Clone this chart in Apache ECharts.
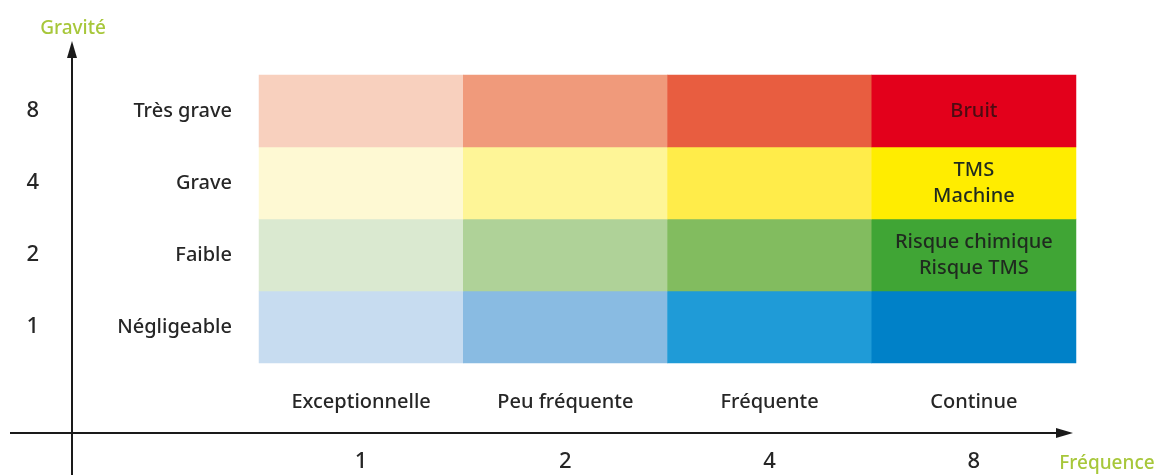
<!DOCTYPE html>
<html>
<head>
<meta charset="utf-8">
<script src="https://cdn.jsdelivr.net/npm/echarts@6/dist/echarts.min.js"></script>
<style>
  html, body { margin: 0; padding: 0; background: #fff; }
  #chart { width: 1162px; height: 475px; }
</style>
</head>
<body>
<div id="chart"></div>
<script>
// Matrice de risque : fréquence × gravité
const frequencyLabels = ['Exceptionnelle', 'Peu fréquente', 'Fréquente', 'Continue'];
const frequencyValues = ['1', '2', '4', '8'];
const gravityLabels = ['Négligeable', 'Faible', 'Grave', 'Très grave'];
const gravityValues = ['1', '2', '4', '8'];

// Couleurs des cases, ligne par ligne (gravité 1 → 8), colonne par colonne (fréquence 1 → 8)
const cellColors = [
  ['#c7dcf0', '#89bbe2', '#1f9bd7', '#0081c8'],
  ['#dae9d0', '#afd298', '#82bc5f', '#40a535'],
  ['#fef9d3', '#fef597', '#ffec4a', '#ffed00'],
  ['#f8d0be', '#f09a7b', '#e85d40', '#e3001b']
];

// Risques placés dans la matrice : [indice fréquence, indice gravité, texte]
const risks = [
  [3, 3, 'Bruit'],
  [3, 2, 'TMS\nMachine'],
  [3, 1, 'Risque chimique\nRisque TMS']
];

const FONT = 'Noto Sans';
const TEXT = '#262626';

const data = [];
for (let g = 0; g < gravityLabels.length; g++) {
  for (let f = 0; f < frequencyLabels.length; f++) {
    const score = Number(frequencyValues[f]) * Number(gravityValues[g]);
    const risk = risks.find(r => r[0] === f && r[1] === g);
    data.push({
      value: [f, g, score],
      name: risk ? risk[2] : '',
      itemStyle: { color: cellColors[g][f] },
      label: { color: (g === 3 && f === 3) ? '#4d0b12' : '#1f2a1f' }
    });
  }
}

const chart = echarts.init(document.getElementById('chart'), null, { renderer: 'canvas' });

const gridLeft = 259, gridRight = 1162 - 1076, gridTop = 75, gridBottom = 475 - 363;
const axisY = 433;   // ordonnée de l'axe des fréquences
const axisX = 72;    // abscisse de l'axe des gravités

chart.setOption({
  animation: false,
  grid: { left: gridLeft, right: gridRight, top: gridTop, bottom: gridBottom },
  xAxis: [
    {
      type: 'category', data: frequencyLabels, position: 'bottom',
      axisLine: { show: false }, axisTick: { show: false }, splitLine: { show: false },
      axisLabel: { margin: 29, fontFamily: FONT, fontSize: 20, fontWeight: 500, color: TEXT }
    },
    {
      type: 'category', data: frequencyValues, position: 'bottom', offset: 84,
      axisLine: { show: false }, axisTick: { show: false }, splitLine: { show: false },
      axisLabel: { margin: 4, fontFamily: FONT, fontSize: 22, fontWeight: 500, color: TEXT }
    }
  ],
  yAxis: [
    {
      type: 'category', data: gravityLabels, position: 'left',
      axisLine: { show: false }, axisTick: { show: false }, splitLine: { show: false },
      axisLabel: { margin: 27, fontFamily: FONT, fontSize: 20, fontWeight: 500, color: TEXT }
    },
    {
      type: 'category', data: gravityValues, position: 'left', offset: 210,
      axisLabel: { margin: 10, fontFamily: FONT, fontSize: 22, fontWeight: 500, color: TEXT },
      axisLine: { show: false }, axisTick: { show: false }, splitLine: { show: false }
    }
  ],
  series: [{
    type: 'heatmap',
    xAxisIndex: 0, yAxisIndex: 0,
    data: data,
    label: {
      show: true,
      formatter: p => p.name,
      fontFamily: FONT, fontSize: 20, fontWeight: 500, lineHeight: 26
    },
    itemStyle: { borderWidth: 0 },
    emphasis: { disabled: true }
  }],
  graphic: [
    // axe des gravités (vertical) avec flèche
    { type: 'line', shape: { x1: axisX, y1: 475, x2: axisX, y2: 52 },
      style: { stroke: '#1a1a1a', lineWidth: 2 } },
    { type: 'polygon', shape: { points: [[axisX - 5, 58], [axisX + 5, 58], [axisX, 41]] },
      style: { fill: '#1a1a1a' } },
    // axe des fréquences (horizontal) avec flèche
    { type: 'line', shape: { x1: 10, y1: axisY, x2: 1062, y2: axisY },
      style: { stroke: '#1a1a1a', lineWidth: 2 } },
    { type: 'polygon', shape: { points: [[1056, axisY - 5], [1056, axisY + 5], [1073, axisY]] },
      style: { fill: '#1a1a1a' } },
    // titres des axes
    { type: 'text', x: 73, y: 29,
      style: { text: 'Gravité', fill: '#a7c73a', font: '500 19px "Noto Sans"', textAlign: 'center', textVerticalAlign: 'middle' } },
    { type: 'text', x: 1107, y: 464,
      style: { text: 'Fréquence', fill: '#a7c73a', font: '500 19px "Noto Sans"', textAlign: 'center', textVerticalAlign: 'middle' } }
  ]
});
</script>
</body>
</html>
